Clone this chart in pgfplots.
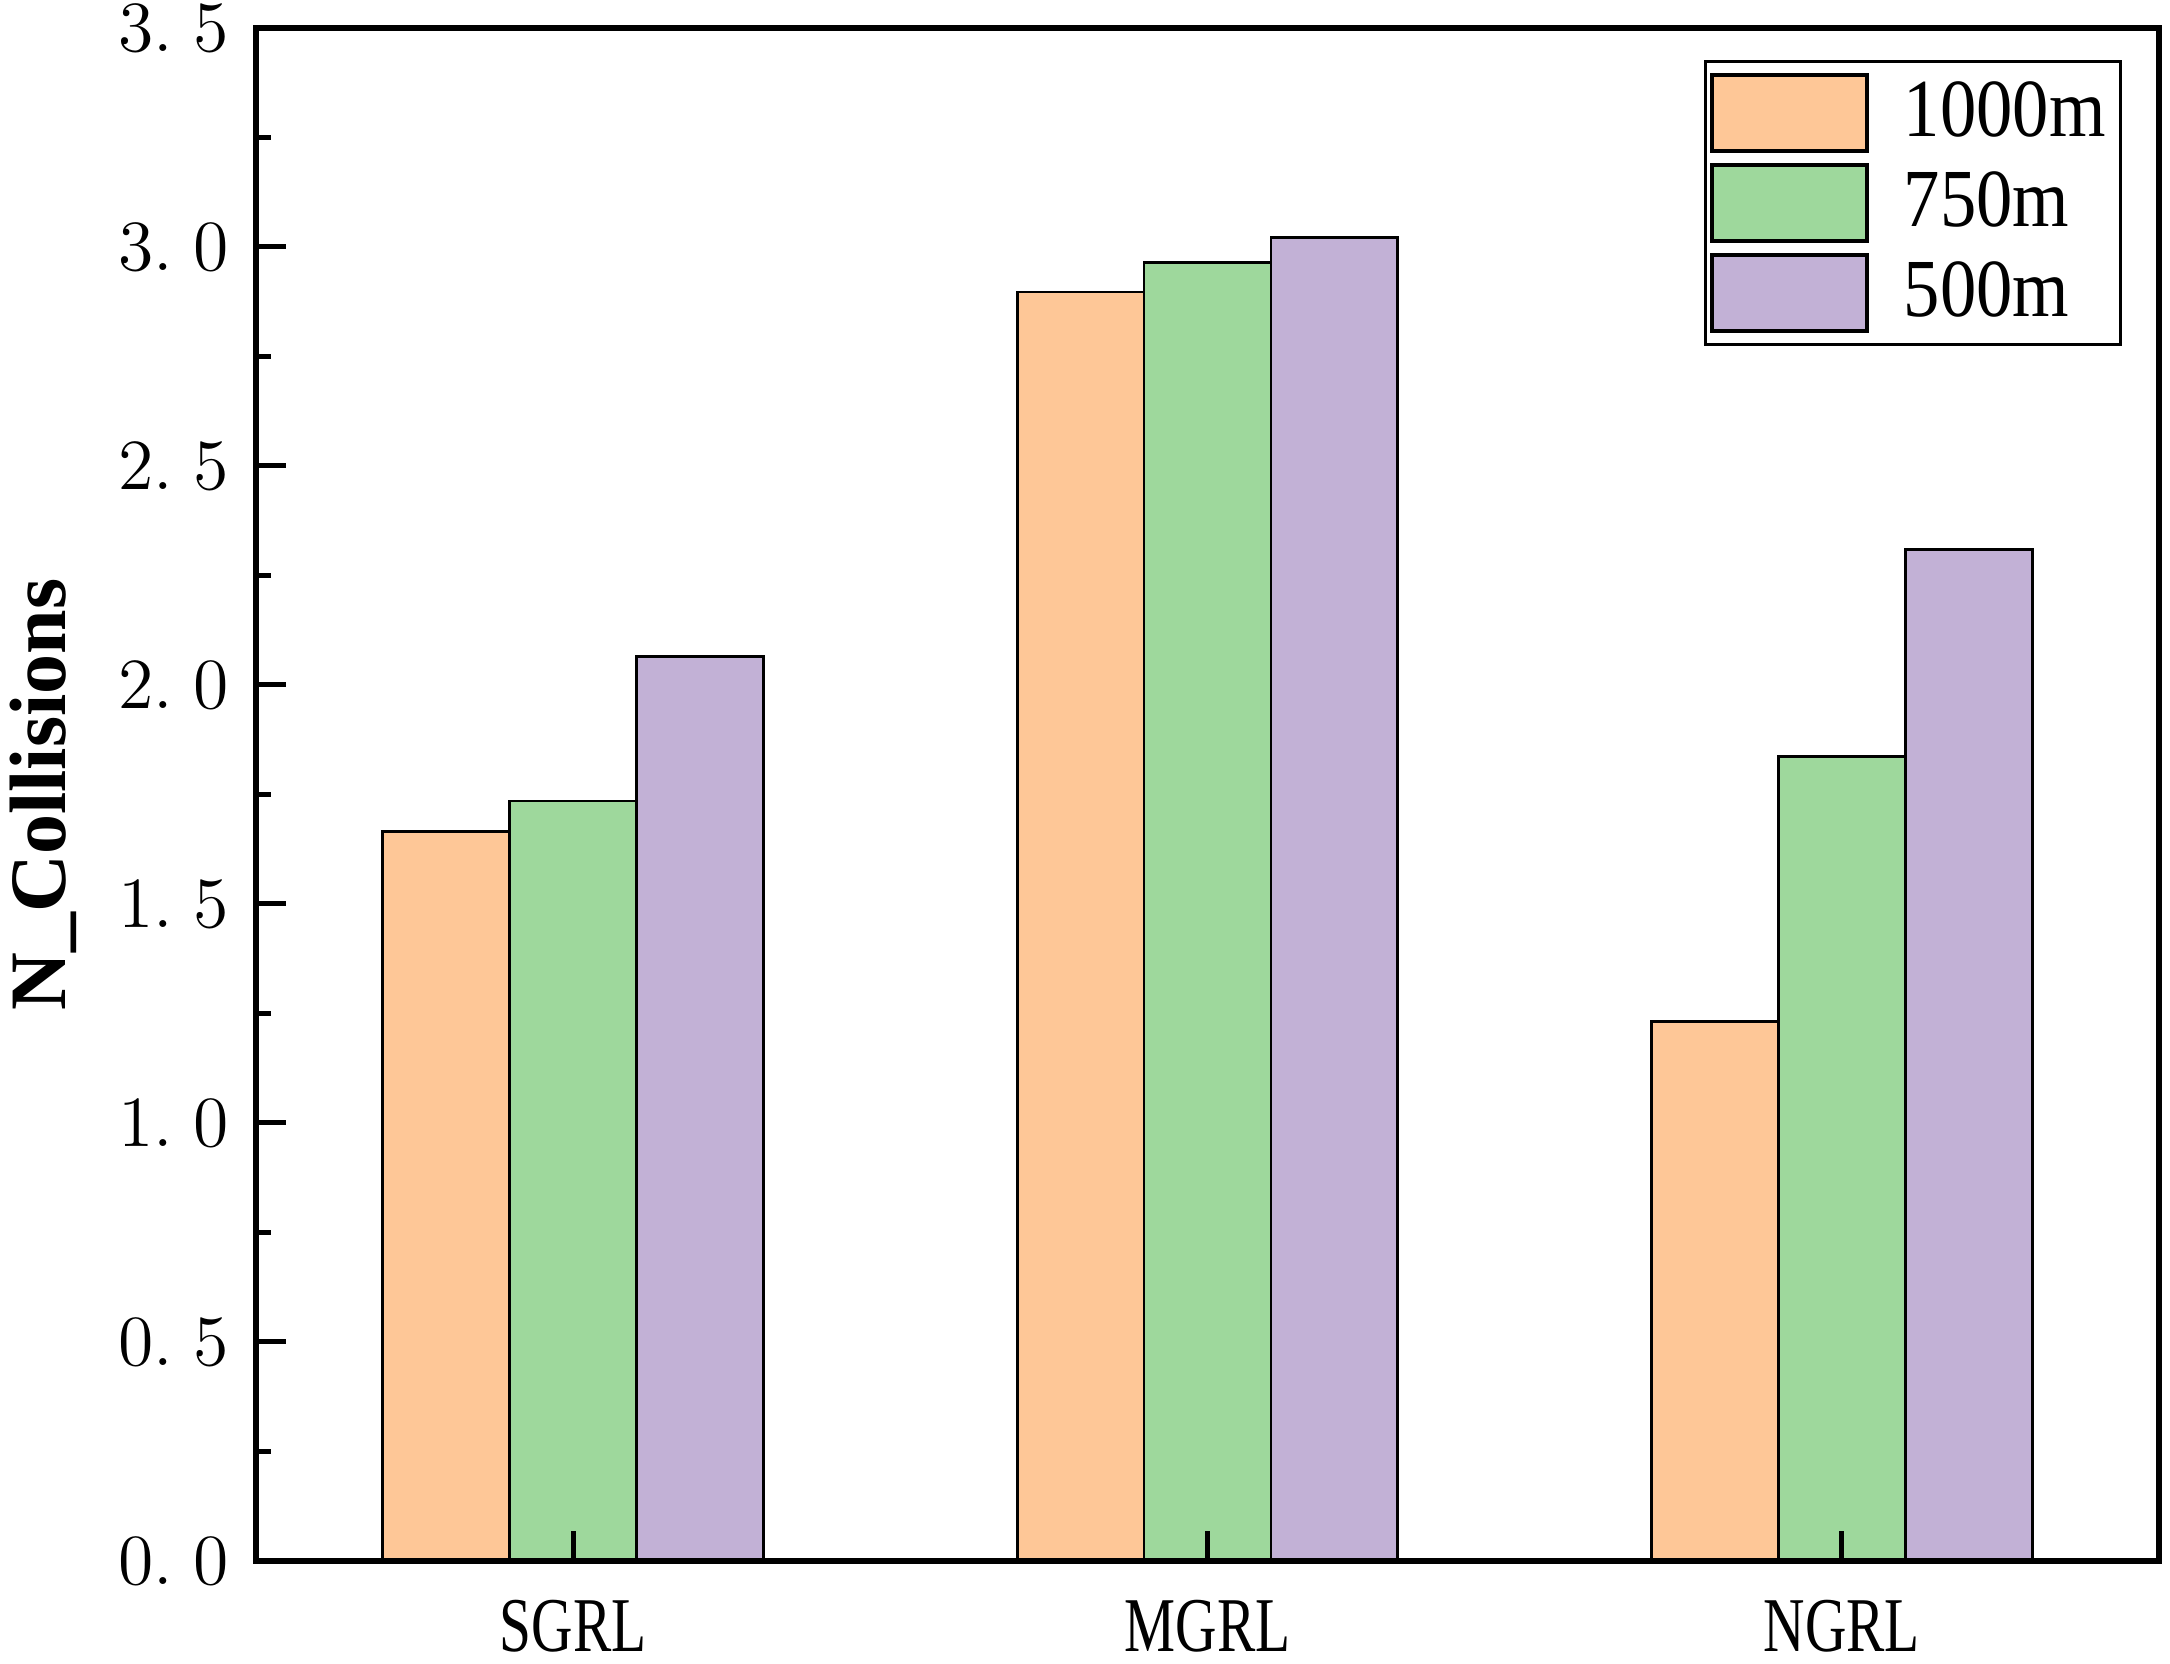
\documentclass[border=0pt]{standalone}
\usepackage{pgfplots}
\pgfplotsset{compat=1.18}
\usepackage{graphicx}
\usepackage{fontspec}
\setmainfont{Liberation Serif}
\usetikzlibrary{calc}
\definecolor{cOr}{RGB}{254,199,151}
\definecolor{cGr}{RGB}{158,216,156}
\definecolor{cPu}{RGB}{194,177,214}
\begin{document}
\begin{tikzpicture}
\begin{axis}[
  name=ax,
  ybar, bar width=0.2,
  axis on top,
  scale only axis,
  width=380.6pt, height=306.6pt,
  xmin=-0.5, xmax=2.5,
  ymin=0, ymax=3.5,
  axis line style={line width=1.3pt},
  xtick={0,1,2},
  xticklabels={\scalebox{0.74}[1]{SGRL},\scalebox{0.74}[1]{MGRL},\scalebox{0.74}[1]{NGRL}},
  xticklabel style={font=\fontsize{15.5}{15.5}\selectfont, yshift=-4.3pt},
  ytick={0,0.5,1,1.5,2,2.5,3,3.5},
  yticklabels={$0.\;0$,$0.\;5$,$1.\;0$,$1.\;5$,$2.\;0$,$2.\;5$,$3.\;0$,$3.\;5$},
  yticklabel style={font=\fontsize{14.5}{14.5}\selectfont, xshift=-2pt},
  minor y tick num=1,
  xtick pos=lower, ytick pos=left,
  major tick length=6pt, minor tick length=3pt,
  tick style={line width=1pt, black},
  ylabel={\bfseries N\_Collisions},
  ylabel style={font=\fontsize{16}{16}\selectfont, xshift=0pt, yshift=1.4pt},
  legend style={at={(1,1)}, anchor=north east, xshift=-7.4pt, yshift=-6.5pt,
    draw=black, line width=0.6pt, font=\fontsize{16.5}{16.5}\selectfont,
    row sep=1.5pt, inner xsep=1pt, inner ysep=2pt},
  legend image code/.code={\draw[#1, line width=0.8pt] (0pt,-7.6pt) rectangle (31pt,7.6pt); \path (36pt,0pt);},
  legend cell align=left,
  tick align=inside,
  xtick align=inside,
]
\addplot[draw=black, line width=0.55pt, fill=cOr, bar shift=-0.2] coordinates {(0,1.665) (1,2.897) (2,1.232)};
\addplot[draw=black, line width=0.55pt, fill=cGr, bar shift=0] coordinates {(0,1.735) (1,2.964) (2,1.836)};
\addplot[draw=black, line width=0.55pt, fill=cPu, bar shift=0.2] coordinates {(0,2.065) (1,3.021) (2,2.310)};
\legend{\scalebox{0.88}[1]{1000m},\scalebox{0.88}[1]{750m},\scalebox{0.88}[1]{500m}}
\end{axis}
\pgfresetboundingbox
\path[use as bounding box] ($(ax.south west)+(-51.2pt,-20.6pt)$) rectangle ($(ax.north east)+(2.2pt,5.6pt)$);
\end{tikzpicture}
\end{document}
